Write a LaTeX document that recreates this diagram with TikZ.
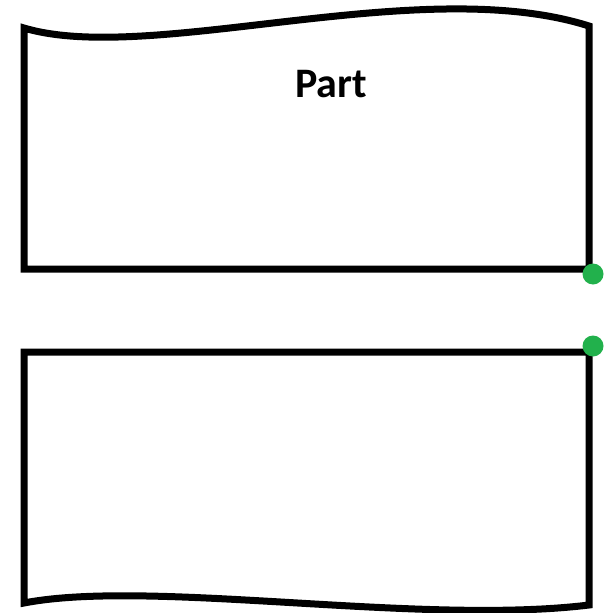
\documentclass[tikz,border=0pt]{standalone}
\usepackage{fontspec}
\setmainfont{Carlito}
\begin{document}
\begin{tikzpicture}[x=1pt,y=-1pt,
  outline/.style={draw=black,line width=7pt,line join=miter},
  greendot/.style={circle,fill=dotgreen,inner sep=0pt,minimum size=21pt},
  label/.style={font=\bfseries\fontsize{42}{50}\selectfont,inner sep=0pt}]
\definecolor{dotgreen}{RGB}{34,177,76}
\useasboundingbox (0,0) rectangle (603,613);
% top part
\coordinate (tl) at (24,28);
\coordinate (tr) at (589,26);
\coordinate (bl) at (24,269);
\coordinate (br) at (589,269);
\draw[outline] (tr) .. controls (420,-27.6) and (150,65.6) .. (tl) -- (bl) -- (br) -- cycle;
\node[label,anchor=base] (part) at (331,97) {Part};
% bottom part
\coordinate (tl2) at (24,352);
\coordinate (tr2) at (589,352);
\coordinate (bl2) at (24,603);
\coordinate (br2) at (589,605);
\draw[outline] (tr2) -- (tl2) -- (bl2) .. controls (150,578.6) and (420,625.6) .. (br2) -- cycle;
% green dots
\node[greendot] (d1) at (593,274) {};
\node[greendot] (d2) at (593,346) {};
\end{tikzpicture}
\end{document}
